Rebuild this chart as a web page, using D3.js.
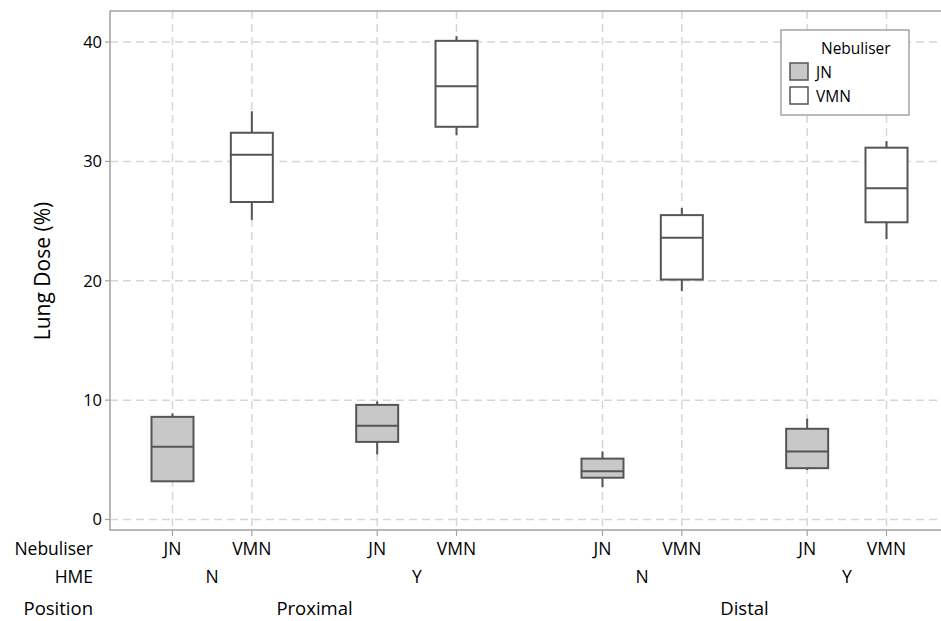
<!DOCTYPE html>
<html>
<head>
<meta charset="utf-8">
<script src="https://cdn.jsdelivr.net/npm/d3@7"></script>
<style>
  body { margin: 0; background: #fff; }
  svg { display: block; font-family: "Open Sans", "Noto Sans", sans-serif; }
</style>
</head>
<body>
<svg width="941" height="621"></svg>
<script>
// box plot values, one entry per box
var nebuliser = ["JN", "VMN", "JN", "VMN", "JN", "VMN", "JN", "VMN"];
var hme       = ["N", "N", "Y", "Y", "N", "N", "Y", "Y"];
var position  = ["Proximal", "Proximal", "Proximal", "Proximal", "Distal", "Distal", "Distal", "Distal"];
var whiskerHigh = [8.9, 34.2, 9.9, 40.5, 5.7, 26.1, 8.45, 31.7];
var q3          = [8.6, 32.4, 9.6, 40.1, 5.1, 25.5, 7.6, 31.15];
var median      = [6.1, 30.55, 7.85, 36.3, 4.05, 23.6, 5.7, 27.75];
var q1          = [3.2, 26.6, 6.5, 32.9, 3.5, 20.1, 4.3, 24.9];
var whiskerLow  = [3.2, 25.1, 5.45, 32.2, 2.7, 19.15, 4.15, 23.5];
var yTicks = [0, 10, 20, 30, 40];
var legendItems = ["JN", "VMN"];
var legendColors = ["#c8c8c8", "#ffffff"];

var svg = d3.select("svg");
var plotL = 110, plotT = 11, plotR = 941, plotB = 530;

var y = d3.scaleLinear().domain([-0.88, 42.6]).range([plotB, plotT]);

// slot positions: gap grows when HME or Position changes
var slots = [];
var s = 0;
for (var i = 0; i < nebuliser.length; i++) {
  if (i > 0) {
    if (position[i] != position[i - 1]) s += 1.84;
    else if (hme[i] != hme[i - 1]) s += 1.58;
    else s += 1;
  }
  slots.push(s);
}
var x = d3.scaleLinear().domain([0, d3.max(slots)]).range([172.5, 886.5]);

var color = d3.scaleOrdinal().domain(legendItems).range(legendColors);

// gridlines
svg.append("g").selectAll("line").data(yTicks).enter().append("line")
  .attr("x1", plotL).attr("x2", plotR)
  .attr("y1", d => y(d)).attr("y2", d => y(d))
  .style("stroke", "#d6d6d6").style("stroke-width", 1.5)
  .style("stroke-dasharray", "8,5");
svg.append("g").selectAll("line").data(slots).enter().append("line")
  .attr("x1", d => x(d)).attr("x2", d => x(d))
  .attr("y1", plotT).attr("y2", plotB)
  .style("stroke", "#d6d6d6").style("stroke-width", 1.5)
  .style("stroke-dasharray", "8,5");

// frame
svg.append("path")
  .attr("d", "M" + plotR + "," + plotT + "H" + plotL + "V" + plotB + "H" + plotR)
  .style("fill", "none").style("stroke", "#a3a3a3").style("stroke-width", 1.5);

// y axis ticks + labels
var yAxis = svg.append("g");
yTicks.forEach(function(t) {
  yAxis.append("line")
    .attr("x1", plotL - 5).attr("x2", plotL)
    .attr("y1", y(t)).attr("y2", y(t))
    .style("stroke", "#a3a3a3").style("stroke-width", 1.2);
  yAxis.append("text")
    .attr("x", plotL - 8).attr("y", y(t))
    .attr("dy", "0.36em")
    .attr("text-anchor", "end")
    .style("font-size", "16.5px")
    .style("fill", "#000")
    .text(t);
});

svg.append("text")
  .attr("transform", "translate(50,271) rotate(-90)")
  .attr("text-anchor", "middle")
  .style("font-size", "21px")
  .style("fill", "#000")
  .text("Lung Dose (%)");

// x ticks
svg.append("g").selectAll("line").data(slots).enter().append("line")
  .attr("x1", d => x(d)).attr("x2", d => x(d))
  .attr("y1", plotB).attr("y2", plotB + 6)
  .style("stroke", "#a3a3a3").style("stroke-width", 1.2);

// boxes
var boxW = 42;
var boxes = svg.append("g");
slots.forEach(function(sl, i) {
  var cx = x(sl);
  var g = boxes.append("g");
  g.append("line").attr("x1", cx).attr("x2", cx)
    .attr("y1", y(whiskerHigh[i])).attr("y2", y(q3[i]))
    .style("stroke", "#555").style("stroke-width", 2);
  g.append("line").attr("x1", cx).attr("x2", cx)
    .attr("y1", y(q1[i])).attr("y2", y(whiskerLow[i]))
    .style("stroke", "#555").style("stroke-width", 2);
  g.append("rect")
    .attr("x", cx - boxW / 2).attr("width", boxW)
    .attr("y", y(q3[i])).attr("height", y(q1[i]) - y(q3[i]))
    .style("fill", color(nebuliser[i]))
    .style("stroke", "#555").style("stroke-width", 2);
  g.append("line")
    .attr("x1", cx - boxW / 2).attr("x2", cx + boxW / 2)
    .attr("y1", y(median[i])).attr("y2", y(median[i]))
    .style("stroke", "#555").style("stroke-width", 2);
});

// category rows
var rowY = [549, 577, 608];
var rowSize = ["17.5px", "17.5px", "18.5px"];
var rowNames = ["Nebuliser", "HME", "Position"];
function rowText(r, xx, t, anchor) {
  svg.append("text")
    .attr("x", xx).attr("y", rowY[r]).attr("dy", "0.36em")
    .attr("text-anchor", anchor)
    .style("font-size", rowSize[r])
    .style("fill", "#000")
    .text(t);
}
rowNames.forEach(function(n, r) { rowText(r, 93, n, "end"); });
slots.forEach(function(sl, i) { rowText(0, x(sl), nebuliser[i], "middle"); });
// HME labels centered on each pair
for (var i = 0; i < slots.length; i += 2) {
  rowText(1, (x(slots[i]) + x(slots[i + 1])) / 2, hme[i], "middle");
}
// Position labels centered on each group of four
for (var i = 0; i < slots.length; i += 4) {
  rowText(2, (x(slots[i]) + x(slots[i + 3])) / 2, position[i], "middle");
}

// legend
var lg = svg.append("g").attr("transform", "translate(781,30)");
lg.append("rect").attr("width", 128).attr("height", 85)
  .style("fill", "#fff").style("stroke", "#a3a3a3").style("stroke-width", 1.5);
lg.append("text").attr("x", 40).attr("y", 18).attr("dy", "0.36em")
  .style("font-size", "15.5px")
  .style("fill", "#000").text("Nebuliser");
legendItems.forEach(function(d, i) {
  lg.append("rect")
    .attr("x", 9).attr("y", 33 + i * 24).attr("width", 18).attr("height", 17)
    .style("fill", color(d)).style("stroke", "#555").style("stroke-width", 1.5);
  lg.append("text")
    .attr("x", 35).attr("y", 42 + i * 24).attr("dy", "0.36em")
    .style("font-size", "15.5px")
    .style("fill", "#000").text(d);
});
</script>
</body>
</html>
